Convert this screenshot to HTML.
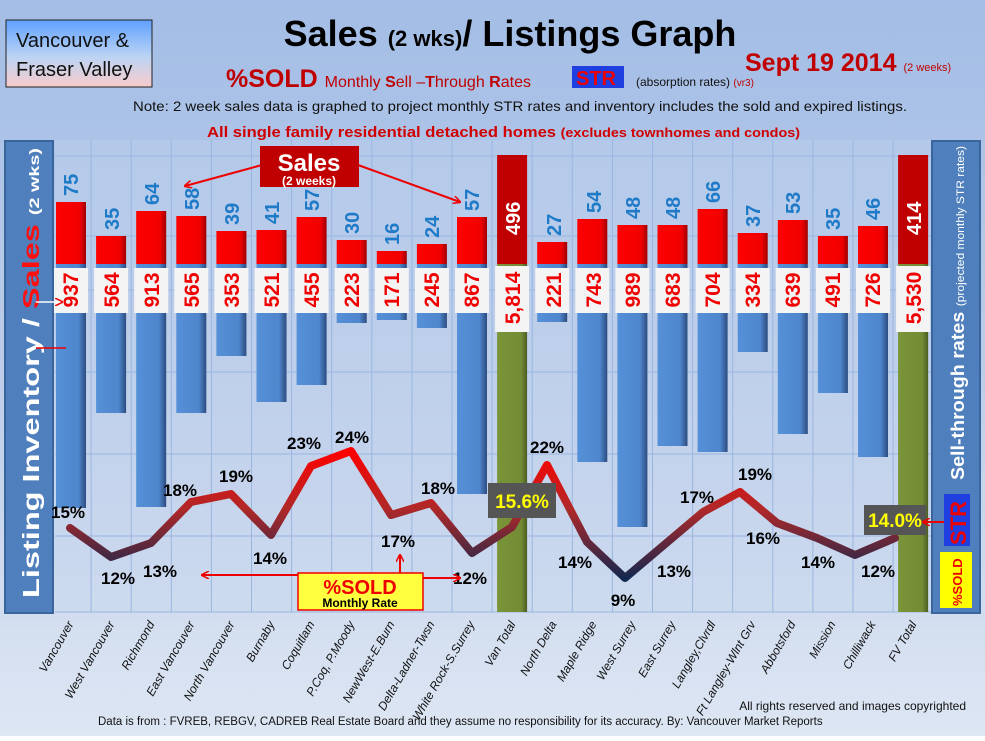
<!DOCTYPE html>
<html><head><meta charset="utf-8"><style>
html,body{margin:0;padding:0}
body{width:985px;height:736px;overflow:hidden;font-family:"Liberation Sans",sans-serif}
</style></head><body>
<svg id="s" width="985" height="736" viewBox="0 0 985 736" xmlns="http://www.w3.org/2000/svg" font-family="Liberation Sans, DejaVu Sans, sans-serif">
<defs>
<linearGradient id="bg" x1="0" y1="0" x2="0" y2="1"><stop offset="0" stop-color="#a3bde6"/><stop offset="0.5" stop-color="#bccde9"/><stop offset="1" stop-color="#dde6f3"/></linearGradient>
<linearGradient id="vb" x1="0" y1="0" x2="0" y2="1"><stop offset="0" stop-color="#60a0ff"/><stop offset="0.55" stop-color="#bcd4f4"/><stop offset="1" stop-color="#f8cccc"/></linearGradient>
<linearGradient id="ln" gradientUnits="userSpaceOnUse" x1="0" y1="450" x2="0" y2="580"><stop offset="0" stop-color="#ff0000"/><stop offset="0.45" stop-color="#b02828"/><stop offset="1" stop-color="#102850"/></linearGradient>
<linearGradient id="rb" x1="0" y1="0" x2="1" y2="0"><stop offset="0" stop-color="#ff0000"/><stop offset="0.8" stop-color="#f00000"/><stop offset="1" stop-color="#a00000"/></linearGradient>
<linearGradient id="bb" x1="0" y1="0" x2="1" y2="0"><stop offset="0" stop-color="#5590d8"/><stop offset="0.75" stop-color="#4f86cc"/><stop offset="1" stop-color="#2c4c80"/></linearGradient>
<linearGradient id="gb" x1="0" y1="0" x2="1" y2="0"><stop offset="0" stop-color="#7a9438"/><stop offset="0.8" stop-color="#748c36"/><stop offset="1" stop-color="#4b5c22"/></linearGradient>
<marker id="ar" markerWidth="8" markerHeight="8" refX="7" refY="4" orient="auto" markerUnits="userSpaceOnUse"><path d="M0,0 L8,4 L0,8" fill="none" stroke="#e00" stroke-width="1.5"/></marker>
</defs>
<rect width="985" height="736" fill="url(#bg)"/>
<rect x="55" y="140" width="876" height="472" fill="#c4d4ee" opacity="0.35"/>
<g id="grid" stroke="#9ab6e0" stroke-width="1"></g>
<g id="bars"></g>
<polyline id="line" fill="none" stroke="url(#ln)" stroke-width="8" stroke-linejoin="round" stroke-linecap="round" points="70,528 111,557 151,543 191,502 231,494 271,535 311,466 351,451 391,515 431,503 472,553 512,527 547,465 587,542 625,578 664,545 703,512 740,492 777,523 817,538 855,555 895,538"/>

<!-- header -->
<rect x="6" y="20" width="146" height="67" fill="url(#vb)" stroke="#222" stroke-width="1"/>
<text x="16" y="47" font-size="20" fill="#111">Vancouver &amp;</text>
<text x="16" y="76" font-size="20" fill="#111">Fraser Valley</text>
<text x="510" y="46" text-anchor="middle" font-size="36" font-weight="bold" fill="#000">Sales <tspan font-size="22">(2 wks)</tspan>/ Listings Graph</text>
<text x="745" y="71" font-size="25" font-weight="bold" fill="#c00000">Sept 19 2014 <tspan font-size="11" font-weight="normal">(2 weeks)</tspan></text>
<rect x="572" y="66" width="52" height="22" fill="#1f3fe0"/>
<text x="226" y="87" font-size="25" font-weight="bold" fill="#c00000">%SOLD <tspan font-size="16" font-weight="normal">Monthly <tspan font-weight="bold">S</tspan>ell –<tspan font-weight="bold">T</tspan>hrough <tspan font-weight="bold">R</tspan>ates</tspan></text>
<text x="576" y="85" font-size="20" font-weight="bold" fill="#e00">STR</text>
<text x="636" y="86" font-size="12" fill="#111">(absorption rates) <tspan fill="#c00000" font-size="10">(vr3)</tspan></text>
<text x="133" y="111" font-size="14" fill="#111" textLength="774" lengthAdjust="spacingAndGlyphs">Note: 2 week sales data is graphed to project monthly STR rates and inventory includes the sold and expired listings.</text>
<text x="207" y="137" font-size="15" font-weight="bold" fill="#d00000" textLength="593" lengthAdjust="spacingAndGlyphs">All single family residential detached homes <tspan font-size="13">(excludes townhomes and condos)</tspan></text>

<!-- side panels -->
<rect x="5" y="141" width="48" height="472" fill="#4f7fbc" stroke="#3a659c" stroke-width="2"/>
<text transform="translate(39,598) rotate(-90)" font-size="23" font-weight="bold" fill="#fff" textLength="450" lengthAdjust="spacingAndGlyphs">Listing Inventory / <tspan fill="#ff1010">Sales</tspan> <tspan font-size="14">(2  wks)</tspan></text>
<rect x="932" y="141" width="48" height="472" fill="#4f7fbc" stroke="#3a659c" stroke-width="2"/>
<text transform="translate(964,480) rotate(-90)" font-size="18" font-weight="bold" fill="#fff" textLength="334" lengthAdjust="spacingAndGlyphs">Sell-through rates <tspan font-size="11" font-weight="normal">(projected monthly STR rates)</tspan></text>
<rect x="944" y="494" width="26" height="52" fill="#1f3fe0"/>
<text transform="translate(966,545) rotate(-90)" font-size="22" font-weight="bold" fill="#e00">STR</text>
<rect x="940" y="552" width="32" height="56" fill="#ffff00"/>
<text transform="translate(962,606) rotate(-90)" font-size="13" font-weight="bold" fill="#e00">%SOLD</text>

<!-- value labels -->
<g font-size="20" font-weight="bold" fill="#1f7bc8" id="sv">
<text transform="translate(78,196) rotate(-90)">75</text>
<text transform="translate(119,230) rotate(-90)">35</text>
<text transform="translate(159,205) rotate(-90)">64</text>
<text transform="translate(199,210) rotate(-90)">58</text>
<text transform="translate(239,225) rotate(-90)">39</text>
<text transform="translate(279,224) rotate(-90)">41</text>
<text transform="translate(319,211) rotate(-90)">57</text>
<text transform="translate(359,234) rotate(-90)">30</text>
<text transform="translate(399,245) rotate(-90)">16</text>
<text transform="translate(439,238) rotate(-90)">24</text>
<text transform="translate(479,211) rotate(-90)">57</text>
<text transform="translate(561,236) rotate(-90)">27</text>
<text transform="translate(601,213) rotate(-90)">54</text>
<text transform="translate(640,219) rotate(-90)">48</text>
<text transform="translate(680,219) rotate(-90)">48</text>
<text transform="translate(720,203) rotate(-90)">66</text>
<text transform="translate(760,227) rotate(-90)">37</text>
<text transform="translate(800,214) rotate(-90)">53</text>
<text transform="translate(840,230) rotate(-90)">35</text>
<text transform="translate(880,220) rotate(-90)">46</text>
</g>
<g font-size="20" font-weight="bold" fill="#fff">
<text transform="translate(520,235) rotate(-90)">496</text>
<text transform="translate(921,235) rotate(-90)">414</text>
</g>
<g id="ibox"></g>
<g font-size="21" font-weight="bold" fill="#f00000" text-anchor="middle">
<text transform="translate(78,290) rotate(-90)">937</text>
<text transform="translate(119,290) rotate(-90)">564</text>
<text transform="translate(159,290) rotate(-90)">913</text>
<text transform="translate(199,290) rotate(-90)">565</text>
<text transform="translate(239,290) rotate(-90)">353</text>
<text transform="translate(279,290) rotate(-90)">521</text>
<text transform="translate(319,290) rotate(-90)">455</text>
<text transform="translate(359,290) rotate(-90)">223</text>
<text transform="translate(399,290) rotate(-90)">171</text>
<text transform="translate(439,290) rotate(-90)">245</text>
<text transform="translate(479,290) rotate(-90)">867</text>
<text transform="translate(520,298) rotate(-90)">5,814</text>
<text transform="translate(561,290) rotate(-90)">221</text>
<text transform="translate(601,290) rotate(-90)">743</text>
<text transform="translate(640,290) rotate(-90)">989</text>
<text transform="translate(680,290) rotate(-90)">683</text>
<text transform="translate(720,290) rotate(-90)">704</text>
<text transform="translate(760,290) rotate(-90)">334</text>
<text transform="translate(800,290) rotate(-90)">639</text>
<text transform="translate(840,290) rotate(-90)">491</text>
<text transform="translate(880,290) rotate(-90)">726</text>
<text transform="translate(921,298) rotate(-90)">5,530</text>
</g>

<!-- percent labels -->
<g font-size="17" font-weight="bold" fill="#000" text-anchor="middle">
<text x="68" y="518">15%</text>
<text x="118" y="584">12%</text>
<text x="160" y="577">13%</text>
<text x="180" y="496">18%</text>
<text x="236" y="482">19%</text>
<text x="270" y="564">14%</text>
<text x="304" y="449">23%</text>
<text x="352" y="443">24%</text>
<text x="398" y="547">17%</text>
<text x="438" y="494">18%</text>
<text x="470" y="584">12%</text>
<text x="547" y="453">22%</text>
<text x="575" y="568">14%</text>
<text x="623" y="606">9%</text>
<text x="674" y="577">13%</text>
<text x="697" y="503">17%</text>
<text x="755" y="480">19%</text>
<text x="763" y="544">16%</text>
<text x="818" y="568">14%</text>
<text x="878" y="577">12%</text>
</g>
<rect x="488" y="483" width="68" height="35" fill="#555"/>
<text x="522" y="508" text-anchor="middle" font-size="19" font-weight="bold" fill="#ffff00">15.6%</text>
<rect x="864" y="505" width="62" height="30" fill="#555"/>
<text x="895" y="527" text-anchor="middle" font-size="19" font-weight="bold" fill="#ffff00">14.0%</text>
<line x1="944" y1="522" x2="923" y2="522" stroke="#e00" stroke-width="2" marker-end="url(#ar)"/>

<!-- annotations -->
<line x1="262" y1="165" x2="185" y2="186" stroke="#e00" stroke-width="2" marker-end="url(#ar)"/>
<line x1="358" y1="165" x2="460" y2="202" stroke="#e00" stroke-width="2" marker-end="url(#ar)"/>
<rect x="260" y="146" width="99" height="41" fill="#c00000"/>
<text x="309" y="171" text-anchor="middle" font-size="24" font-weight="bold" fill="#fff">Sales</text>
<text x="309" y="185" text-anchor="middle" font-size="12" font-weight="bold" fill="#fff">(2 weeks)</text>
<rect x="298" y="573" width="125" height="37" fill="#ffff40" stroke="#e00" stroke-width="1.5"/>
<text x="360" y="594" text-anchor="middle" font-size="20" font-weight="bold" fill="#e00">%SOLD</text>
<text x="360" y="607" text-anchor="middle" font-size="12" font-weight="bold" fill="#000">Monthly Rate</text>
<line x1="298" y1="575" x2="202" y2="575" stroke="#e00" stroke-width="2" marker-end="url(#ar)"/>
<line x1="423" y1="578" x2="460" y2="578" stroke="#e00" stroke-width="2" marker-end="url(#ar)"/>
<line x1="400" y1="573" x2="400" y2="555" stroke="#e00" stroke-width="2" marker-end="url(#ar)"/>
<line x1="36" y1="348" x2="66" y2="348" stroke="#e00" stroke-width="1.5"/>
<line x1="36" y1="302" x2="62" y2="302" stroke="#fff" stroke-width="1.5" marker-end="url(#ar)"/>

<!-- x labels -->
<g font-size="12" font-style="italic" fill="#111" text-anchor="end">
<text transform="translate(74,624) rotate(-60)">Vancouver</text>
<text transform="translate(115,624) rotate(-60)">West Vancouver</text>
<text transform="translate(155,624) rotate(-60)">Richmond</text>
<text transform="translate(195,624) rotate(-60)">East Vancouver</text>
<text transform="translate(235,624) rotate(-60)">North Vancouver</text>
<text transform="translate(275,624) rotate(-60)">Burnaby</text>
<text transform="translate(315,624) rotate(-60)">Coquitlam</text>
<text transform="translate(355,624) rotate(-60)">P.Coq, P.Moody</text>
<text transform="translate(395,624) rotate(-60)">NewWest-E.Burn</text>
<text transform="translate(435,624) rotate(-60)">Delta-Ladner-Twsn</text>
<text transform="translate(475,624) rotate(-60)">White Rock-S.Surrey</text>
<text transform="translate(516,624) rotate(-60)">Van Total</text>
<text transform="translate(557,624) rotate(-60)">North Delta</text>
<text transform="translate(597,624) rotate(-60)">Maple Ridge</text>
<text transform="translate(636,624) rotate(-60)">West Surrey</text>
<text transform="translate(676,624) rotate(-60)">East Surrey</text>
<text transform="translate(716,624) rotate(-60)">Langley,Clvrdl</text>
<text transform="translate(756,624) rotate(-60)">Ft Langley-Wlnt Grv</text>
<text transform="translate(796,624) rotate(-60)">Abbotsford</text>
<text transform="translate(836,624) rotate(-60)">Mission</text>
<text transform="translate(876,624) rotate(-60)">Chilliwack</text>
<text transform="translate(917,624) rotate(-60)">FV Total</text>
</g>
<text x="966" y="710" text-anchor="end" font-size="12" fill="#111">All rights reserved and  images copyrighted</text>
<text x="98" y="725" font-size="11.5" fill="#111">Data is from : FVREB, REBGV, CADREB Real Estate Board and they assume no responsibility for its accuracy. By: Vancouver Market Reports</text>
</svg>
<script>
(function(){
var NS="http://www.w3.org/2000/svg";
function el(p,t,a){var e=document.createElementNS(NS,t);for(var k in a)e.setAttribute(k,a[k]);p.appendChild(e);return e;}
var g=document.getElementById('grid');
for(var i=0;i<=22;i++){var x=51+40.1*i;el(g,'line',{x1:x,y1:140,x2:x,y2:612});}
[156,236,290,372,454,536,612].forEach(function(y){el(g,'line',{x1:55,y1:y,x2:931,y2:y});});
var top=[202,236,211,216,231,230,217,240,251,244,217,155,242,219,225,225,209,233,220,236,226,155];
var bot=[508,413,507,413,356,402,385,323,320,328,494,612,322,462,527,446,452,352,434,393,457,612];
var b=document.getElementById('bars'), ib=document.getElementById('ibox');
for(var i=0;i<22;i++){
 var c=71+40.1*i, x=c-15, tot=(i==11||i==21);
 el(b,'rect',{x:x,y:264,width:30,height:bot[i]-264,fill:tot?'url(#gb)':'url(#bb)'});
 el(b,'rect',{x:x,y:top[i],width:30,height:264-top[i],fill:tot?'#c00000':'url(#rb)'});
 el(ib,'rect',{x:c-17,y:tot?266:268,width:34,height:tot?66:45,fill:'#f4f4f4'});
}
})();
</script>
</body></html>
